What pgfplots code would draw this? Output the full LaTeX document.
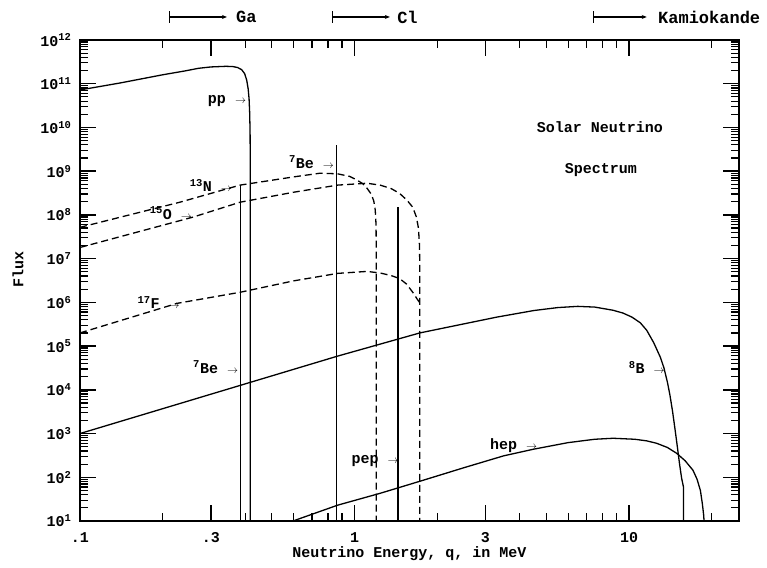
\documentclass[border=0pt]{standalone}
\usepackage{pgfplots}
\pgfplotsset{compat=1.18}
\usepackage{fontspec}
\setmainfont{Liberation Mono}[BoldFont={Liberation Mono Bold}]
\usetikzlibrary{arrows.meta}

% label followed by a small pointing arrow
\newcommand{\lab}[1]{#1~$\scriptstyle\rightarrow$}

\begin{document}
\begin{tikzpicture}[font=\fontsize{15}{18}\selectfont\bfseries]
\path[use as bounding box] (0,0) rectangle (767pt,567pt);
\begin{axis}[
  at={(80pt,46pt)}, anchor=south west,
  scale only axis, width=659pt, height=481pt,
  xmode=log, ymode=log,
  xmin=0.1, xmax=25.16, ymin=10, ymax=1e12,
  clip=false,
  axis line style={line width=1.4pt},
  tick align=inside,
  major tick length=16pt,
  minor tick length=8pt,
  major tick style={black, line width=1.4pt},
  minor tick style={black, line width=1.2pt},
  xtick={0.1,0.3,1,3,10},
  xticklabels={.1,.3,1,3,10},
  minor xtick={0.2,0.4,0.5,0.6,0.7,0.8,0.9,2,4,5,6,7,8,9,20},
  ytick={1e1,1e2,1e3,1e4,1e5,1e6,1e7,1e8,1e9,1e10,1e11,1e12},
  yticklabels={10\textsuperscript{1},10\textsuperscript{2},10\textsuperscript{3},10\textsuperscript{4},10\textsuperscript{5},10\textsuperscript{6},10\textsuperscript{7},10\textsuperscript{8},10\textsuperscript{9},10\textsuperscript{10},10\textsuperscript{11},10\textsuperscript{12}},
  minor ytick={2e1,3e1,4e1,5e1,6e1,7e1,8e1,9e1,
               2e2,3e2,4e2,5e2,6e2,7e2,8e2,9e2,
               2e3,3e3,4e3,5e3,6e3,7e3,8e3,9e3,
               2e4,3e4,4e4,5e4,6e4,7e4,8e4,9e4,
               2e5,3e5,4e5,5e5,6e5,7e5,8e5,9e5,
               2e6,3e6,4e6,5e6,6e6,7e6,8e6,9e6,
               2e7,3e7,4e7,5e7,6e7,7e7,8e7,9e7,
               2e8,3e8,4e8,5e8,6e8,7e8,8e8,9e8,
               2e9,3e9,4e9,5e9,6e9,7e9,8e9,9e9,
               2e10,3e10,4e10,5e10,6e10,7e10,8e10,9e10,
               2e11,3e11,4e11,5e11,6e11,7e11,8e11,9e11},
  /pgf/number format/assume math mode=true,
  xticklabel style={yshift=-8pt},
  yticklabel style={xshift=-5pt},
  xlabel={Neutrino Energy, q, in MeV},
  ylabel={Flux},
  every axis x label/.style={at={(axis description cs:0.5,-0.068)},anchor=center},
  every axis y label/.style={at={(axis description cs:-0.094,0.522)},rotate=90,anchor=center},
  curve/.style={black, line width=1.3pt, mark=none, solid},
  dcurve/.style={curve, dash pattern=on 7pt off 4pt},
]

% pp continuum
\addplot[curve] coordinates {(0.1,7.2e10)(0.14,1.04e11)(0.2,1.6e11)(0.24,1.95e11)(0.27,2.25e11)(0.3,2.42e11)
  (0.34,2.5e11)(0.36,2.47e11)(0.375,2.35e11)(0.388,2.1e11)(0.398,1.7e11)(0.405,1.2e11)(0.41,7.5e10)
  (0.413,4.5e10)(0.415,2.2e10)(0.4165,8e9)(0.417,2e9)(0.417,10)};

% 7Be lines
\addplot[curve] coordinates {(0.384,10)(0.384,4.8e8)};
\addplot[curve] coordinates {(0.862,10)(0.862,4e9)};
% pep line
\addplot[curve] coordinates {(1.442,10)(1.442,1.5e8)};

% 13N
\addplot[dcurve] coordinates {(0.1,5.2e7)(0.231,1.95e8)(0.383,4.8e8)(0.6,7.4e8)
  (0.75,9.0e8)(0.868,8.7e8)(0.96,7.6e8)(1.02,6.3e8)(1.07,5.2e8)(1.11,4.1e8)(1.15,3.0e8)(1.175,2.1e8)
  (1.19,1.3e8)(1.198,6e7)(1.2,2e7)(1.2,10)};
% 15O
\addplot[dcurve] coordinates {(0.1,1.8e7)(0.258,8.9e7)(0.383,1.95e8)(0.6,3.3e8)
  (0.868,4.8e8)(1.11,5.3e8)(1.24,4.8e8)(1.36,4.0e8)(1.46,3.1e8)(1.55,2.2e8)(1.63,1.5e8)(1.68,9e7)
  (1.71,5e7)(1.725,2e7)(1.73,5e6)(1.73,10)};
% 17F
\addplot[dcurve] coordinates {(0.1,2e5)(0.226,9.5e5)(0.383,1.7e6)(0.6,3.1e6)
  (0.868,4.6e6)(1.11,5.1e6)(1.24,4.7e6)(1.36,4.1e6)(1.46,3.5e6)(1.55,2.6e6)(1.63,1.7e6)(1.69,1.2e6)(1.735,9.5e5)};

% 8B
\addplot[curve] coordinates {(0.1,1e3)(0.383,1.26e4)(0.868,5.9e4)(1.73,2e5)(3.3,4.6e5)(4.5,6.5e5)
  (5.5,7.6e5)(6.5,8.1e5)(7.5,7.8e5)(8.75,6.6e5)(9.5,5.7e5)(10.25,4.6e5)(11.0,3.4e5)(11.6,2.3e5)
  (12.3,1.2e5)(13.0,5.6e4)(13.4,3.2e4)(13.8,1.5e4)(14.1,7.5e3)(14.4,3.3e3)(14.7,1.3e3)(15.0,500)
  (15.3,190)(15.55,95)(15.8,59)(15.8,10)};

% hep
\addplot[curve] coordinates {(0.597,10)(0.868,23)(1.24,43)(1.73,81)(2.5,165)(3.5,310)(4.47,436)
  (6,620)(7.5,740)(8.75,780)(10.5,740)(11.6,680)(12.6,600)(13.8,480)(14.9,355)(16.0,240)(17.1,145)
  (17.7,90)(18.2,50)(18.5,25)(18.7,14)(18.77,10)};

% source labels
\node[anchor=east,inner sep=0pt] at (axis cs:0.403,3.98e10) {\lab{pp}};
\node[anchor=east,inner sep=0pt] at (axis cs:0.842,1.62e9) {\lab{\textsuperscript{7}Be}};
\node[anchor=east,inner sep=0pt] at (axis cs:0.358,4.8e8) {\lab{\textsuperscript{13}N}};
\node[anchor=east,inner sep=0pt] at (axis cs:0.256,1.1e8) {\lab{\textsuperscript{15}O}};
\node[anchor=east,inner sep=0pt] at (axis cs:0.231,1e6) {\lab{\textsuperscript{17}F}};
\node[anchor=east,inner sep=0pt] at (axis cs:0.377,3.3e4) {\lab{\textsuperscript{7}Be}};
\node[anchor=east,inner sep=0pt] at (axis cs:1.45,234) {\lab{pep}};
\node[anchor=east,inner sep=0pt] at (axis cs:4.63,537) {\lab{hep}};
\node[anchor=east,inner sep=0pt] at (axis cs:13.5,3.3e4) {\lab{\textsuperscript{8}B}};

\node at (axis cs:7.83,1.02e10) {Solar Neutrino};
\node at (axis cs:7.9,1.07e9) {Spectrum};

% detector thresholds above the frame
\begin{scope}[font=\fontsize{17}{20}\selectfont\bfseries]
\draw[line width=1.1pt,{Bar[width=12pt]}-{Stealth[length=5pt,width=4pt]}]
  (axis cs:0.211,3.36e12) -- (axis cs:0.343,3.36e12);
\node[anchor=west] at (axis cs:0.36,3.36e12) {Ga};
\draw[line width=1.1pt,{Bar[width=12pt]}-{Stealth[length=5pt,width=4pt]}]
  (axis cs:0.828,3.36e12) -- (axis cs:1.345,3.36e12);
\node[anchor=west] at (axis cs:1.39,3.36e12) {Cl};
\draw[line width=1.1pt,{Bar[width=12pt]}-{Stealth[length=5pt,width=4pt]}]
  (axis cs:7.40,3.36e12) -- (axis cs:11.6,3.36e12);
\node[anchor=west] at (axis cs:12.4,3.36e12) {Kamiokande};
\end{scope}
\end{axis}
\end{tikzpicture}
\end{document}
